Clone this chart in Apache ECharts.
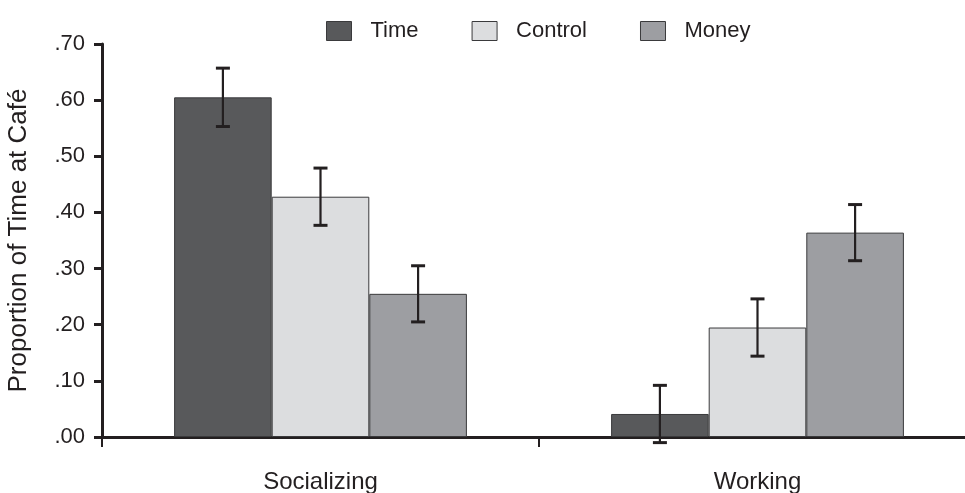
<!DOCTYPE html>
<html>
<head>
<meta charset="utf-8">
<script src="https://cdn.jsdelivr.net/npm/echarts@6/dist/echarts.min.js"></script>
<style>html,body{margin:0;padding:0;background:#fff;}#c{width:965px;height:493px;}</style>
</head>
<body>
<div id="c"></div>
<script>
var categories = ['Socializing', 'Working'];
var seriesNames = ['Time', 'Control', 'Money'];
var timeVals = [0.605, 0.041];
var controlVals = [0.428, 0.195];
var moneyVals = [0.255, 0.364];
var timeErr = [0.052, 0.051];
var controlErr = [0.051, 0.051];
var moneyErr = [0.050, 0.050];
var yTicks = [0, 0.1, 0.2, 0.3, 0.4, 0.5, 0.6, 0.7];

var colors = ['#58595b', '#dcdddf', '#9d9ea2'];
var dark = '#231f20';
var font = 'Liberation Sans, Arial, sans-serif';
var catGap = 0.33;

var chart = echarts.init(document.getElementById('c'));

function barSeries(name, vals, color) {
  return {
    name: name, type: 'bar', data: vals,
    barGap: '0%', barCategoryGap: '33%',
    itemStyle: { color: color, borderColor: '#3a3a3c', borderWidth: 1 },
    emphasis: { disabled: true }
  };
}

function errSeries(name, vals, errs, idx) {
  var data = vals.map(function (v, i) { return [i, v, errs[i]]; });
  return {
    name: name, type: 'custom', data: data, z: 5,
    encode: { x: 0, y: 1 },
    renderItem: function (params, api) {
      var ci = api.value(0), v = api.value(1), e = api.value(2);
      var catW = api.size([1, 0])[0];
      var bw = catW * (1 - catGap) / 3;
      var center = api.coord([ci, v]);
      var x = center[0] + (idx - 1) * bw;
      var top = api.coord([ci, v + e])[1];
      var bot = api.coord([ci, v - e])[1];
      var cap = 7;
      return {
        type: 'group',
        children: [
          { type: 'line', shape: { x1: x, y1: top, x2: x, y2: bot }, style: { stroke: dark, lineWidth: 2.2 } },
          { type: 'line', shape: { x1: x - cap, y1: top, x2: x + cap, y2: top }, style: { stroke: dark, lineWidth: 3 } },
          { type: 'line', shape: { x1: x - cap, y1: bot, x2: x + cap, y2: bot }, style: { stroke: dark, lineWidth: 3 } }
        ]
      };
    }
  };
}

chart.setOption({
  animation: false,
  backgroundColor: '#ffffff',
  legend: {
    data: seriesNames.map(function (n, i) { return { name: n, itemStyle: { color: colors[i], borderColor: '#3a3a3c', borderWidth: 1 } }; }),
    left: 321, top: 15,
    itemWidth: 25, itemHeight: 19, itemGap: 53,
    icon: 'rect',
    textStyle: { fontFamily: font, fontSize: 22, color: dark, padding: [0, 0, 0, 14] }
  },
  grid: { left: 102, top: 44, right: -11, bottom: 56, containLabel: false, outerBoundsMode: 'none' },
  xAxis: {
    type: 'category', data: categories,
    axisLine: { lineStyle: { color: dark, width: 3 } },
    axisTick: { show: true, length: 10, lineStyle: { color: dark, width: 2 } },
    axisLabel: { fontFamily: font, fontSize: 24, color: dark, margin: 33 },
    splitLine: { show: false }
  },
  yAxis: {
    type: 'value', min: 0, max: 0.7, interval: 0.1,
    name: 'Proportion of Time at Café', nameLocation: 'middle', nameGap: 70,
    nameTextStyle: { fontFamily: font, fontSize: 26, color: dark },
    axisLine: { show: true, lineStyle: { color: dark, width: 3 } },
    axisTick: { show: true, length: 8, lineStyle: { color: dark, width: 3 } },
    axisLabel: {
      fontFamily: font, fontSize: 22, color: dark, margin: 17,
      formatter: function (v) {
        var idx = yTicks.indexOf(Math.round(v * 10) / 10);
        var t = yTicks[idx] !== undefined ? yTicks[idx] : v;
        return t.toFixed(2).replace(/^0/, '');
      }
    },
    splitLine: { show: false }
  },
  series: [
    barSeries('Time', timeVals, colors[0]),
    barSeries('Control', controlVals, colors[1]),
    barSeries('Money', moneyVals, colors[2]),
    errSeries('Time', timeVals, timeErr, 0),
    errSeries('Control', controlVals, controlErr, 1),
    errSeries('Money', moneyVals, moneyErr, 2)
  ]
});
</script>
</body>
</html>
